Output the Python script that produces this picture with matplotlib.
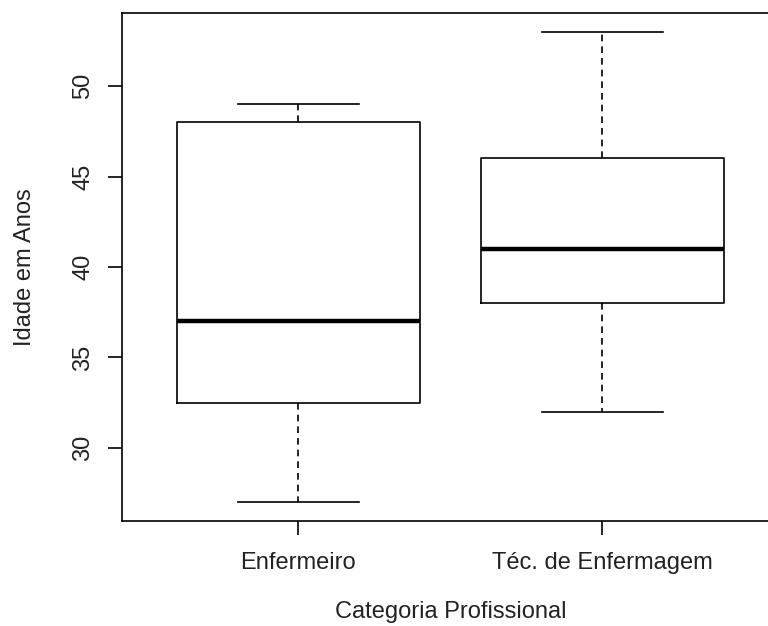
import matplotlib
matplotlib.use("Agg")
import matplotlib.pyplot as plt

plt.rcParams['font.family'] = ['Liberation Sans', 'DejaVu Sans']

categories = ["Enfermeiro", "Téc. de Enfermagem"]
whislo = [27, 32]
q1 = [32.5, 38]
med = [37, 41]
q3 = [48, 46]
whishi = [49, 53]
yticks = [30, 35, 40, 45, 50]

stats = []
for i in range(len(categories)):
    stats.append(dict(label=categories[i], whislo=whislo[i], q1=q1[i],
                      med=med[i], q3=q3[i], whishi=whishi[i], fliers=[]))

fig = plt.figure(figsize=(7.68, 6.26), dpi=100)
ax = fig.add_axes([0.159, 0.1677, 0.855, 0.8115])

ax.bxp(stats, positions=[1, 2], widths=0.8, showfliers=False,
       boxprops=dict(color='black', linewidth=1.2),
       whiskerprops=dict(color='black', linewidth=1.2, linestyle=(0, (4, 3))),
       capprops=dict(color='black', linewidth=1.2),
       medianprops=dict(color='black', linewidth=3.2),
       capwidths=0.4)

ax.set_xlim(0.42, 2.58)
ax.set_ylim(25.96, 54.04)
ax.set_yticks(yticks)
ax.set_yticklabels([str(v) for v in yticks], rotation=90, va='center')
ax.set_xticks([1, 2])
ax.set_xticklabels(categories)
ax.tick_params(axis='both', length=10, width=1.2, labelsize=17,
               labelcolor='#222222')
ax.tick_params(axis='x', pad=12)
ax.tick_params(axis='y', pad=10)
for s in ax.spines.values():
    s.set_linewidth(1.2)

ax.set_xlabel("Categoria Profissional", fontsize=17, labelpad=20, color='#222222')
ax.set_ylabel("Idade em Anos", fontsize=17, labelpad=26, color='#222222')

fig.savefig("out.png", dpi=100)
